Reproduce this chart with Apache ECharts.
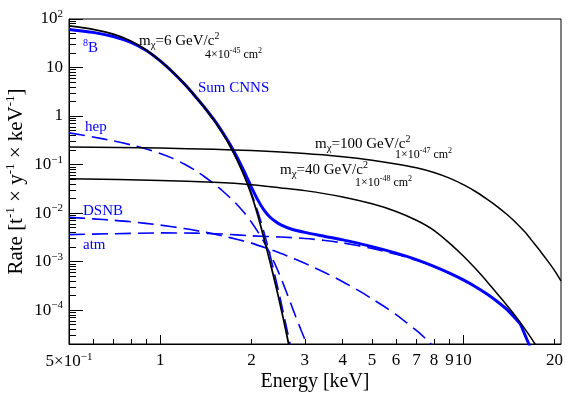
<!DOCTYPE html>
<html>
<head>
<meta charset="utf-8">
<script src="https://cdn.jsdelivr.net/npm/echarts@6/dist/echarts.min.js"></script>
<style>
  html, body { margin: 0; padding: 0; background: #fff; }
  #chart { width: 581px; height: 393px; }
</style>
</head>
<body>
<div id="chart"></div>
<script>
  // WIMP spectra (black)
  const e6 = [0.5, 0.6, 0.7, 0.8, 0.9, 1.0, 1.1, 1.2, 1.3, 1.4, 1.5, 1.6, 1.7, 1.8, 1.9, 2.0, 2.1, 2.2, 2.3, 2.4, 2.5, 2.6, 2.7, 2.8];
  const rate6 = [72, 61, 48.6, 35.2, 22.8, 13.7, 8.0, 4.6, 2.6, 1.49, 0.84, 0.46, 0.24, 0.118, 0.055, 0.0235, 0.0088, 0.003, 0.00101, 0.00034, 0.000113, 0.0000365, 0.0000115, 0.0000036];

  const e100 = [0.5, 1, 1.5, 2, 3, 4, 5, 6, 7, 8, 9, 10, 11, 12, 13, 14, 15, 16, 17, 18, 19, 20, 21];
  const rate100 = [0.23, 0.218, 0.206, 0.194, 0.169, 0.145, 0.123, 0.103, 0.0855, 0.0685, 0.0525, 0.0385, 0.0275, 0.0191, 0.0133, 0.0091, 0.0061, 0.004, 0.0025, 0.0016, 0.00102, 0.00065, 0.0004];

  const e40 = [0.5, 1, 1.5, 2, 2.5, 3, 4, 5, 6, 7, 8, 9, 10, 11, 12, 13, 14, 15, 16, 17, 18];
  const rate40 = [0.051, 0.047, 0.043, 0.0385, 0.033, 0.029, 0.0215, 0.0155, 0.0108, 0.0071, 0.0044, 0.0024, 0.0013, 0.0007, 0.00038, 0.00021, 0.00012, 0.00007, 0.00004, 0.000023, 0.000013];

  // neutrino backgrounds (blue)
  const eSum = [0.5, 0.6, 0.7, 0.8, 0.9, 1.0, 1.1, 1.2, 1.3, 1.4, 1.5, 1.6, 1.7, 1.8, 1.9, 2.0, 2.1, 2.2, 2.3, 2.4, 2.5, 2.7, 3.0, 3.5, 4, 5, 6, 7, 8, 9, 10, 11, 12, 13, 14, 15, 15.4, 16, 16.5, 17];
  const rateSum = [61, 53, 43.5, 33, 22.5, 13.7, 8.0, 4.62, 2.63, 1.51, 0.86, 0.48, 0.26, 0.135, 0.068, 0.034, 0.0185, 0.0115, 0.0083, 0.0067, 0.0057, 0.0047, 0.004, 0.0033, 0.0028, 0.00203, 0.00149, 0.0011, 0.0008, 0.00058, 0.00042, 0.0003, 0.000212, 0.000147, 0.0001, 0.000063, 0.000052, 0.00003, 0.000019, 0.000011];

  const e8B = [0.5, 0.6, 0.7, 0.8, 0.9, 1.0, 1.1, 1.2, 1.3, 1.4, 1.5, 1.6, 1.7, 1.8, 1.9, 2.0, 2.1, 2.2, 2.3, 2.4, 2.5, 2.6, 2.7, 2.8];
  const rate8B = [60.5, 52.5, 43.1, 32.7, 22.3, 13.55, 7.88, 4.52, 2.56, 1.45, 0.82, 0.45, 0.24, 0.12, 0.058, 0.0255, 0.0105, 0.004, 0.0014, 0.00046, 0.00015, 0.000049, 0.000016, 0.000005];

  const eHep = [0.5, 0.6, 0.7, 0.8, 0.9, 1.0, 1.1, 1.2, 1.3, 1.4, 1.5, 1.6, 1.7, 1.8, 1.9, 2.0, 2.1, 2.2, 2.3, 2.4, 2.5, 2.6, 2.7, 2.8, 2.9, 3.0, 3.1, 3.2];
  const rateHep = [0.45, 0.37, 0.308, 0.255, 0.209, 0.169, 0.134, 0.1026, 0.0766, 0.0561, 0.0406, 0.0292, 0.0207, 0.0145, 0.00986, 0.00647, 0.0041, 0.00252, 0.00149, 0.000845, 0.000462, 0.000248, 0.000133, 0.000073, 0.000042, 0.000025, 0.000016, 0.00001];

  const eDsnb = [0.5, 0.6, 0.7, 0.8, 1.0, 1.2, 1.4, 1.6, 1.8, 2.0, 2.3, 2.6, 3.0, 3.5, 4.0, 4.5, 5.0, 5.5, 6.0, 6.5, 7.0, 7.5, 8.0, 8.5];
  const rateDsnb = [0.0082, 0.0076, 0.0071, 0.0066, 0.00565, 0.0048, 0.00405, 0.0034, 0.00285, 0.0024, 0.00178, 0.00134, 0.00092, 0.00059, 0.000385, 0.000255, 0.000171, 0.000117, 0.000081, 0.000055, 0.000038, 0.000026, 0.0000174, 0.0000117];

  const eAtm = [0.5, 0.7, 1.0, 1.3, 1.6, 2.0, 2.5, 3.0, 3.5, 4, 5, 6, 7, 8, 9, 10, 11, 12, 13, 14, 15, 15.5, 16, 16.5, 17];
  const rateAtm = [0.0036, 0.00375, 0.0039, 0.00385, 0.0037, 0.0034, 0.0032, 0.003, 0.00272, 0.00243, 0.00186, 0.00141, 0.00106, 0.000785, 0.000575, 0.000417, 0.000299, 0.000211, 0.000146, 0.000098, 0.000062, 0.000047, 0.000029, 0.000019, 0.000011];

  // axis ticks and labels
  const xMajorTicks = [1, 10];
  const xMinorTicks = [0.6, 0.7, 0.8, 0.9, 2, 3, 4, 5, 6, 7, 8, 9, 20];
  const xLabelValues = [0.5, 1, 2, 3, 4, 5, 6, 7, 8, 9, 10, 20];
  const xLabelTexts = ['5×10{sup|\u22121}', '1', '2', '3', '4', '5', '6', '7', '8', '9', '10', '20'];

  const yMajorTicks = [0.0001, 0.001, 0.01, 0.1, 1, 10, 100];
  const yMinorTicks = [0.00003, 0.00004, 0.00005, 0.00006, 0.00007, 0.00008, 0.00009,
    0.0002, 0.0003, 0.0004, 0.0005, 0.0006, 0.0007, 0.0008, 0.0009,
    0.002, 0.003, 0.004, 0.005, 0.006, 0.007, 0.008, 0.009,
    0.02, 0.03, 0.04, 0.05, 0.06, 0.07, 0.08, 0.09,
    0.2, 0.3, 0.4, 0.5, 0.6, 0.7, 0.8, 0.9,
    2, 3, 4, 5, 6, 7, 8, 9,
    20, 30, 40, 50, 60, 70, 80, 90];
  const yLabelTexts = ['10{sup|\u22124}', '10{sup|\u22123}', '10{sup|\u22122}', '10{sup|\u22121}', '1', '10', '10{sup|2}'];

  const F = "'Liberation Serif', 'DejaVu Serif', serif";
  const BLUE = '#0000ff';

  function pairs(xs, ys) {
    return xs.map(function (x, i) { return [x, ys[i]]; });
  }
  function pick(values, texts, v) {
    for (let i = 0; i < values.length; i++) {
      if (Math.abs(Math.log10(values[i]) - Math.log10(v)) < 1e-6) return texts[i];
    }
    return '';
  }

  const supRich = {
    sup: { fontSize: 11, fontFamily: F, color: '#000', verticalAlign: 'top', lineHeight: 20 }
  };

  function line(data, color, width, dashed, z) {
    return {
      type: 'line',
      data: data,
      symbol: 'none',
      smooth: 0.25,
      lineStyle: { color: color, width: width, type: dashed ? [16, 7] : 'solid' },
      z: z
    };
  }

  function txt(x, y, text, color, size) {
    return {
      type: 'text', x: x, y: y, z: 10,
      style: {
        text: text, fill: color, font: size + 'px ' + F,
        verticalAlign: 'middle', align: 'left',
        rich: {
          sup: { fontSize: Math.round(size * 0.65), fontFamily: F, fill: color, verticalAlign: 'top', lineHeight: size + 4 },
          sub: { fontSize: Math.round(size * 0.7), fontFamily: F, fill: color, verticalAlign: 'bottom', lineHeight: size + 4 }
        }
      }
    };
  }

  const chart = echarts.init(document.getElementById('chart'));

  const xBase = { type: 'log', logBase: 10, min: 0.5, max: 21, splitLine: { show: false }, position: 'bottom' };
  const yBase = { type: 'log', logBase: 10, min: 0.00002, max: 100, splitLine: { show: false }, position: 'left' };

  chart.setOption({
    animation: false,
    backgroundColor: '#fff',
    grid: {
      left: 69, top: 19, right: 20, bottom: 49,
      outerBoundsMode: 'none', containLabel: false,
      show: true, borderColor: '#000', borderWidth: 1, backgroundColor: 'transparent'
    },
    xAxis: [
      Object.assign({}, xBase, {
        axisLine: { show: true, onZero: false, lineStyle: { color: '#000', width: 1 } },
        axisTick: { show: true, inside: true, length: 9, customValues: xMajorTicks, lineStyle: { color: '#000' } },
        axisLabel: {
          show: true, margin: 8, fontSize: 17, fontFamily: F, color: '#000',
          customValues: xLabelValues,
          formatter: function (v) { return pick(xLabelValues, xLabelTexts, v); },
          rich: supRich
        },
        name: 'Energy [keV]', nameLocation: 'middle', nameGap: 28, nameMoveOverlap: false,
        nameTextStyle: { fontSize: 20, fontFamily: F, color: '#000' }
      }),
      Object.assign({}, xBase, {
        axisLine: { show: false, onZero: false },
        axisTick: { show: true, inside: true, length: 5, customValues: xMinorTicks, lineStyle: { color: '#000' } },
        axisLabel: { show: false }
      })
    ],
    yAxis: [
      Object.assign({}, yBase, {
        axisLine: { show: true, onZero: false, lineStyle: { color: '#000', width: 1 } },
        axisTick: { show: true, inside: true, length: 14, customValues: yMajorTicks, lineStyle: { color: '#000' } },
        axisLabel: {
          show: true, margin: 6, fontSize: 17, fontFamily: F, color: '#000',
          customValues: yMajorTicks,
          formatter: function (v) { return pick(yMajorTicks, yLabelTexts, v); },
          rich: supRich
        },
        name: 'Rate [t{s|-1} × y{s|-1} × keV{s|-1}]', nameLocation: 'middle', nameGap: 41, nameRotate: 90,
        nameMoveOverlap: false,
        nameTextStyle: {
          fontSize: 21, fontFamily: F, color: '#000',
          rich: { s: { fontSize: 13, fontFamily: F, color: '#000', verticalAlign: 'top', lineHeight: 24 } }
        }
      }),
      Object.assign({}, yBase, {
        axisLine: { show: false, onZero: false },
        axisTick: { show: true, inside: true, length: 7, customValues: yMinorTicks, lineStyle: { color: '#000' } },
        axisLabel: { show: false }
      })
    ],
    series: [
      line(pairs(eSum, rateSum), BLUE, 3, false, 2),
      line(pairs(e8B, rate8B), BLUE, 1.6, true, 2),
      line(pairs(eHep, rateHep), BLUE, 1.6, true, 2),
      line(pairs(eDsnb, rateDsnb), BLUE, 1.6, true, 2),
      line(pairs(eAtm, rateAtm), BLUE, 1.6, true, 2),
      line(pairs(e6, rate6), '#000', 1.8, false, 3),
      line(pairs(e100, rate100), '#000', 1.5, false, 3),
      line(pairs(e40, rate40), '#000', 1.5, false, 3)
    ],
    graphic: [
      txt(139, 41, 'm{sub|χ}=6 GeV/c{sup|2}', '#000', 15),
      txt(205, 55, '4×10{sup|-45} cm{sup|2}', '#000', 12),
      txt(83, 48, '{sup|8}B', BLUE, 15),
      txt(198, 88, 'Sum CNNS', BLUE, 15),
      txt(85, 127, 'hep', BLUE, 15),
      txt(83, 211, 'DSNB', BLUE, 15),
      txt(83, 245, 'atm', BLUE, 15),
      txt(315, 144, 'm{sub|χ}=100 GeV/c{sup|2}', '#000', 15),
      txt(395, 155, '1×10{sup|-47} cm{sup|2}', '#000', 12),
      txt(280, 170, 'm{sub|χ}=40 GeV/c{sup|2}', '#000', 15),
      txt(355, 183, '1×10{sup|-48} cm{sup|2}', '#000', 12)
    ]
  });
</script>
</body>
</html>
